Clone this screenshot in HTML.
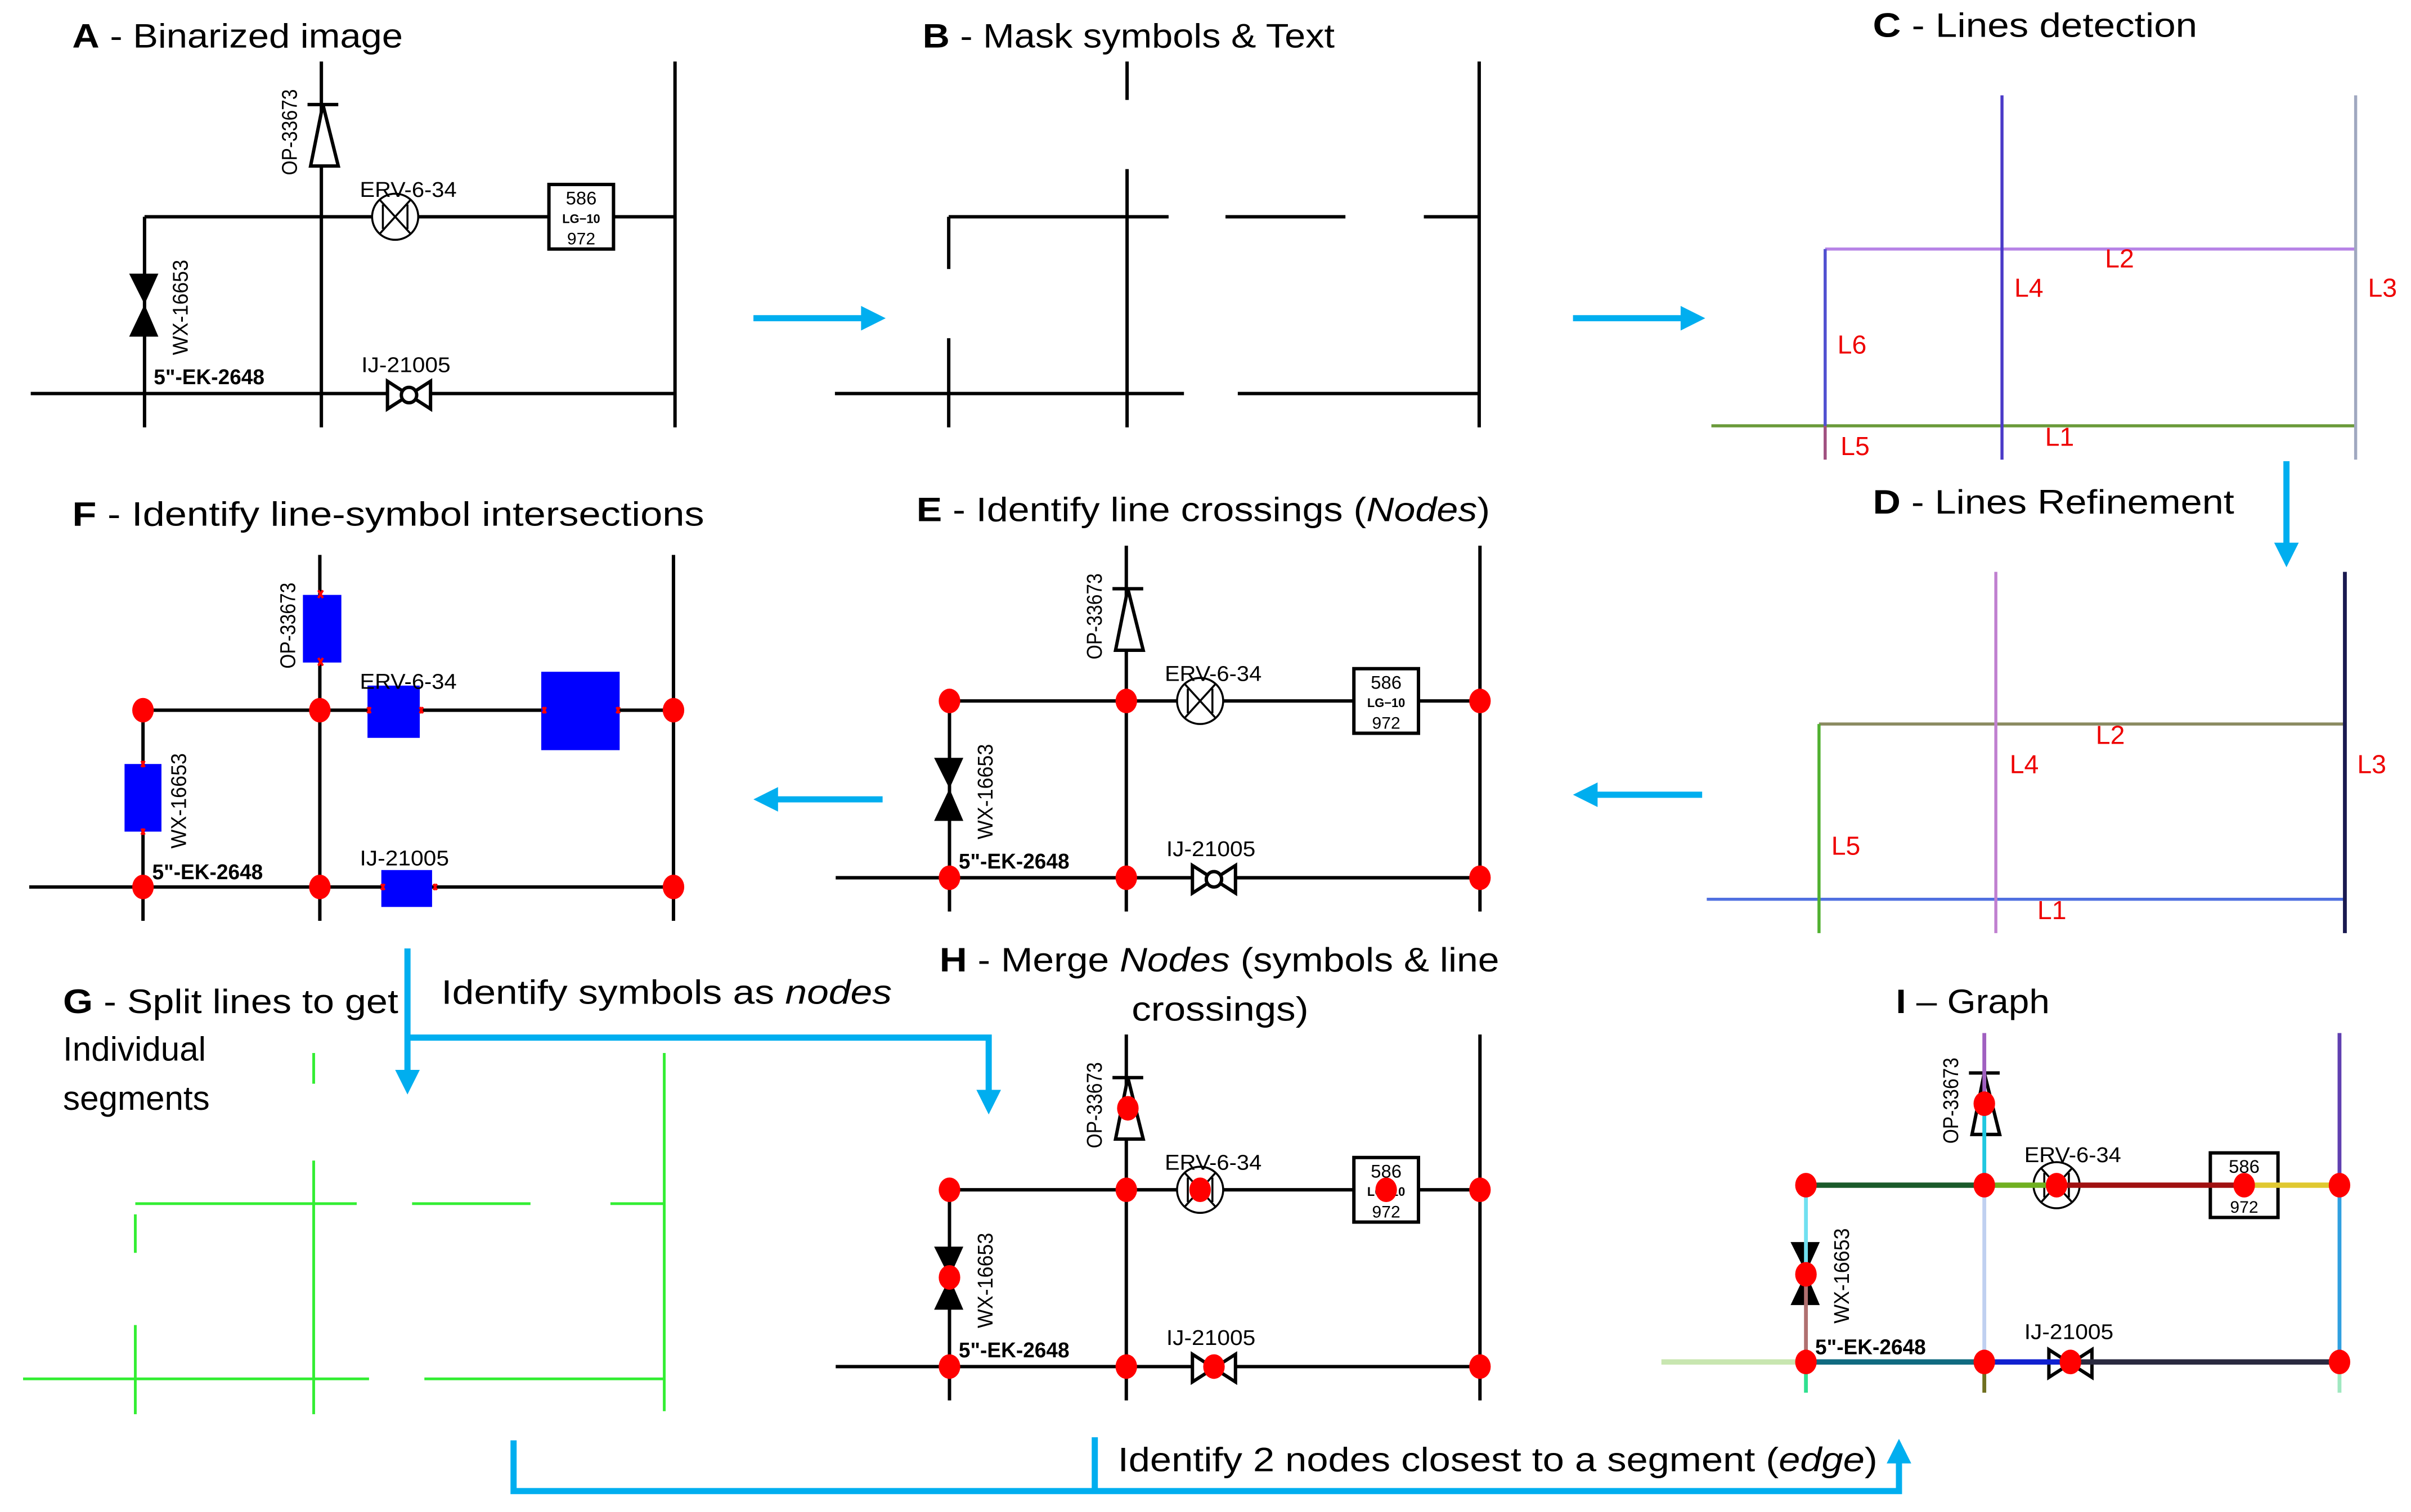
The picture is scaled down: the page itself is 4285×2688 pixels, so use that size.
<!DOCTYPE html>
<html><head><meta charset="utf-8"><style>
html,body{margin:0;padding:0;background:#fff;}
svg{display:block;}
text{font-family:"Liberation Sans",sans-serif;}
.t{font-size:22px;fill:#000;}
.lb{font-size:14px;fill:#000;}
.ll{font-size:17px;fill:#e00;}
</style></head><body>
<svg width="4285" height="2688" viewBox="0 0 1568 983.6" xmlns="http://www.w3.org/2000/svg">
<rect width="1568" height="984" fill="#fff"/>

<!-- Titles -->
<text class="t" x="47" y="31" textLength="215" lengthAdjust="spacingAndGlyphs"><tspan font-weight="bold">A</tspan> - Binarized image</text>
<text class="t" x="600" y="31" textLength="268" lengthAdjust="spacingAndGlyphs"><tspan font-weight="bold">B</tspan> - Mask symbols &amp; Text</text>
<text class="t" x="1218" y="24" textLength="211" lengthAdjust="spacingAndGlyphs"><tspan font-weight="bold">C</tspan> - Lines detection</text>
<text class="t" x="1218" y="334" textLength="235" lengthAdjust="spacingAndGlyphs"><tspan font-weight="bold">D</tspan> - Lines Refinement</text>
<text class="t" x="596" y="339" textLength="373" lengthAdjust="spacingAndGlyphs"><tspan font-weight="bold">E</tspan> - Identify line crossings (<tspan font-style="italic">Nodes</tspan>)</text>
<text class="t" x="47" y="342" textLength="411" lengthAdjust="spacingAndGlyphs"><tspan font-weight="bold">F</tspan> - Identify line-symbol intersections</text>
<text class="t" x="41" y="659" textLength="218" lengthAdjust="spacingAndGlyphs"><tspan font-weight="bold">G</tspan> - Split lines to get</text>
<text class="t" x="41" y="690">Individual</text>
<text class="t" x="41" y="722">segments</text>
<text class="t" x="611" y="632" textLength="364" lengthAdjust="spacingAndGlyphs"><tspan font-weight="bold">H</tspan> - Merge <tspan font-style="italic">Nodes</tspan> (symbols &amp; line</text>
<text class="t" x="736" y="664" textLength="115" lengthAdjust="spacingAndGlyphs">crossings)</text>
<text class="t" x="1233" y="659" textLength="100" lengthAdjust="spacingAndGlyphs"><tspan font-weight="bold">I</tspan> – Graph</text>
<text class="t" x="287" y="653" textLength="293" lengthAdjust="spacingAndGlyphs">Identify symbols as <tspan font-style="italic">nodes</tspan></text>
<text class="t" x="727" y="957" textLength="494" lengthAdjust="spacingAndGlyphs">Identify 2 nodes closest to a segment (<tspan font-style="italic">edge</tspan>)</text>

<!-- Blue arrows -->
<g stroke="#00aeef" stroke-width="4" fill="none">
<path d="M490 207H562"/><path d="M1023 207H1095"/><path d="M1487 300V355"/>
<path d="M1107 517H1037"/><path d="M574 520H504"/>
<path d="M265 617V698"/><path d="M265 675H643V711"/>
<path d="M334 937V970H1235V950"/><path d="M712 935V970"/>
</g>
<g fill="#00aeef">
<polygon points="576,207 560,199 560,215"/><polygon points="1109,207 1093,199 1093,215"/>
<polygon points="1487,369 1479,353 1495,353"/><polygon points="1023,517 1039,509 1039,525"/>
<polygon points="490,520 506,512 506,528"/><polygon points="265,712 257,696 273,696"/>
<polygon points="643,725 635,709 651,709"/><polygon points="1235,936 1227,952 1243,952"/>
</g>

<!-- Panel A -->
<g id="pa">
<g stroke="#000" stroke-width="2.2" fill="none">
<path d="M94 141V278M209 40V278M439 40V278M94 141H439M20 256H439"/>
<path d="M200 68H220"/>
<polygon points="210,68 202,108 220,108" fill="#fff"/>
<circle cx="257" cy="141" r="15" fill="#fff" stroke-width="1.3"/>
<path d="M247 130L267 152M267 130L247 152M249 133V149M265 133V149" stroke-width="1.3"/>
<rect x="357" y="120" width="42" height="42" fill="#fff"/>
<polygon points="252,248 252,266 266,257" fill="#fff"/><polygon points="280,248 280,266 266,257" fill="#fff"/>
<circle cx="266" cy="257" r="5" fill="#fff"/>
</g>
<polygon points="84,178 103,178 94,198" fill="#000"/><polygon points="84,219 103,219 94,198" fill="#000"/>
<text class="lb" transform="translate(193 86) rotate(-90)" text-anchor="middle" textLength="56" lengthAdjust="spacingAndGlyphs">OP-33673</text>
<text class="lb" x="234" y="128" textLength="63" lengthAdjust="spacingAndGlyphs">ERV-6-34</text>
<text class="lb" transform="translate(122 200) rotate(-90)" text-anchor="middle" textLength="62" lengthAdjust="spacingAndGlyphs">WX-16653</text>
<text class="lb" x="100" y="250" font-weight="bold" font-size="12" textLength="72" lengthAdjust="spacingAndGlyphs">5"-EK-2648</text>
<text class="lb" x="235" y="242" textLength="58" lengthAdjust="spacingAndGlyphs">IJ-21005</text>
<text x="378" y="133" font-size="12" text-anchor="middle">586</text>
<text x="378" y="145" font-size="8" font-weight="bold" text-anchor="middle">LG−10</text>
<text x="378" y="159" font-size="11" text-anchor="middle">972</text>
</g>

<!-- Panel B -->
<g stroke="#000" stroke-width="2.2" fill="none">
<path d="M733 40V65M733 110V278M962 40V278M617 141H760M797 141H875M926 141H962M617 141V175M617 220V278M543 256H770M805 256H962"/>
</g>

<!-- Panel C -->
<g stroke-width="2" fill="none">
<path d="M1187 162H1532" stroke="#b784e6"/>
<path d="M1113 277H1532" stroke="#6a9a3a"/>
<path d="M1532 62V299" stroke="#a0a8c0"/>
<path d="M1302 62V299" stroke="#4a3ac8"/>
<path d="M1187 162V277" stroke="#5050d0"/>
<path d="M1187 277V299" stroke="#a05080"/>
</g>
<text class="ll" x="1369" y="174">L2</text><text class="ll" x="1310" y="193">L4</text>
<text class="ll" x="1540" y="193">L3</text><text class="ll" x="1195" y="230">L6</text>
<text class="ll" x="1197" y="296">L5</text><text class="ll" x="1330" y="290">L1</text>

<!-- Panel D -->
<g stroke-width="2" fill="none">
<path d="M1183 471H1525" stroke="#8a8a60"/>
<path d="M1110 585H1525" stroke="#5070e0"/>
<path d="M1525 372V607" stroke="#1a1a50" stroke-width="2.5"/>
<path d="M1298 372V607" stroke="#c080d0"/>
<path d="M1183 471V607" stroke="#50b030"/>
</g>
<text class="ll" x="1363" y="484">L2</text><text class="ll" x="1307" y="503">L4</text>
<text class="ll" x="1533" y="503">L3</text><text class="ll" x="1191" y="556">L5</text>
<text class="ll" x="1325" y="598">L1</text>

<!-- Panel E -->
<g transform="translate(523.5 315)">
<g stroke="#000" stroke-width="2.2" fill="none">
<path d="M94 141V278M209 40V278M439 40V278M94 141H439M20 256H439"/>
<path d="M200 68H220"/>
<polygon points="210,68 202,108 220,108" fill="#fff"/>
<circle cx="257" cy="141" r="15" fill="#fff" stroke-width="1.3"/>
<path d="M247 130L267 152M267 130L247 152M249 133V149M265 133V149" stroke-width="1.3"/>
<rect x="357" y="120" width="42" height="42" fill="#fff"/>
<polygon points="252,248 252,266 266,257" fill="#fff"/><polygon points="280,248 280,266 266,257" fill="#fff"/>
<circle cx="266" cy="257" r="5" fill="#fff"/>
</g>
<polygon points="84,178 103,178 94,198" fill="#000"/><polygon points="84,219 103,219 94,198" fill="#000"/>
<text class="lb" transform="translate(193 86) rotate(-90)" text-anchor="middle" textLength="56" lengthAdjust="spacingAndGlyphs">OP-33673</text>
<text class="lb" x="234" y="128" textLength="63" lengthAdjust="spacingAndGlyphs">ERV-6-34</text>
<text class="lb" transform="translate(122 200) rotate(-90)" text-anchor="middle" textLength="62" lengthAdjust="spacingAndGlyphs">WX-16653</text>
<text class="lb" x="100" y="250" font-weight="bold" font-size="12" textLength="72" lengthAdjust="spacingAndGlyphs">5"-EK-2648</text>
<text class="lb" x="235" y="242" textLength="58" lengthAdjust="spacingAndGlyphs">IJ-21005</text>
<text x="378" y="133" font-size="12" text-anchor="middle">586</text>
<text x="378" y="145" font-size="8" font-weight="bold" text-anchor="middle">LG−10</text>
<text x="378" y="159" font-size="11" text-anchor="middle">972</text>
<g fill="#f00"><ellipse cx="94" cy="141" rx="7" ry="8"/><ellipse cx="209" cy="141" rx="7" ry="8"/><ellipse cx="439" cy="141" rx="7" ry="8"/>
<ellipse cx="94" cy="256" rx="7" ry="8"/><ellipse cx="209" cy="256" rx="7" ry="8"/><ellipse cx="439" cy="256" rx="7" ry="8"/></g>
</g>

<!-- Panel F -->
<g transform="translate(-1 321)">
<g stroke="#000" stroke-width="2.2" fill="none">
<path d="M94 141V278M209 40V278M439 40V278M94 141H439M20 256H439"/>
</g>
<g fill="#0000ff">
<rect x="198" y="66" width="25" height="44"/><rect x="240" y="125" width="34" height="34"/>
<rect x="353" y="116" width="51" height="51"/><rect x="82" y="176" width="24" height="44"/>
<rect x="249" y="245" width="33" height="24"/>
</g>
<text class="lb" transform="translate(193 86) rotate(-90)" text-anchor="middle" textLength="56" lengthAdjust="spacingAndGlyphs">OP-33673</text>
<text class="lb" x="235" y="127" textLength="63" lengthAdjust="spacingAndGlyphs">ERV-6-34</text>
<text class="lb" transform="translate(122 200) rotate(-90)" text-anchor="middle" textLength="62" lengthAdjust="spacingAndGlyphs">WX-16653</text>
<text class="lb" x="100" y="251" font-weight="bold" font-size="12" textLength="72" lengthAdjust="spacingAndGlyphs">5"-EK-2648</text>
<text class="lb" x="235" y="242" textLength="58" lengthAdjust="spacingAndGlyphs">IJ-21005</text>
<g fill="#f00"><ellipse cx="94" cy="141" rx="7" ry="8"/><ellipse cx="209" cy="141" rx="7" ry="8"/><ellipse cx="439" cy="141" rx="7" ry="8"/>
<ellipse cx="94" cy="256" rx="7" ry="8"/><ellipse cx="209" cy="256" rx="7" ry="8"/><ellipse cx="439" cy="256" rx="7" ry="8"/></g>
<g stroke="#f00" stroke-width="1.5"><path d="M208 63l3 5M211 63l-3 5M208 107l3 5M211 107l-3 5M240 139l2 4M242 139l-2 4M274 139l2 4M276 139l-2 4M354 139l2 4M356 139l-2 4M402 139l2 4M404 139l-2 4M93 174l2 4M95 174l-2 4M93 218l2 4M95 218l-2 4M249 254l2 4M251 254l-2 4M283 254l2 4M285 254l-2 4"/></g>
</g>

<!-- Panel G -->
<g stroke="#33ee33" stroke-width="1.8" fill="none">
<path d="M204 685V705M204 755V920M432 685V918M88 783H232M268 783H345M397 783H432M88 790V815M88 862V920M15 897H240M276 897H432"/>
</g>

<!-- Panel H -->
<g transform="translate(523.5 633)">
<g stroke="#000" stroke-width="2.2" fill="none">
<path d="M94 141V278M209 40V278M439 40V278M94 141H439M20 256H439"/>
<path d="M200 68H220"/>
<polygon points="210,68 202,108 220,108" fill="#fff"/>
<circle cx="257" cy="141" r="15" fill="#fff" stroke-width="1.3"/>
<path d="M247 130L267 152M267 130L247 152M249 133V149M265 133V149" stroke-width="1.3"/>
<rect x="357" y="120" width="42" height="42" fill="#fff"/>
<polygon points="252,248 252,266 266,257" fill="#fff"/><polygon points="280,248 280,266 266,257" fill="#fff"/>
<circle cx="266" cy="257" r="5" fill="#fff"/>
</g>
<polygon points="84,178 103,178 94,198" fill="#000"/><polygon points="84,219 103,219 94,198" fill="#000"/>
<text class="lb" transform="translate(193 86) rotate(-90)" text-anchor="middle" textLength="56" lengthAdjust="spacingAndGlyphs">OP-33673</text>
<text class="lb" x="234" y="128" textLength="63" lengthAdjust="spacingAndGlyphs">ERV-6-34</text>
<text class="lb" transform="translate(122 200) rotate(-90)" text-anchor="middle" textLength="62" lengthAdjust="spacingAndGlyphs">WX-16653</text>
<text class="lb" x="100" y="250" font-weight="bold" font-size="12" textLength="72" lengthAdjust="spacingAndGlyphs">5"-EK-2648</text>
<text class="lb" x="235" y="242" textLength="58" lengthAdjust="spacingAndGlyphs">IJ-21005</text>
<text x="378" y="133" font-size="12" text-anchor="middle">586</text>
<text x="378" y="145" font-size="8" font-weight="bold" text-anchor="middle">LG−10</text>
<text x="378" y="159" font-size="11" text-anchor="middle">972</text>
<g fill="#f00"><ellipse cx="94" cy="141" rx="7" ry="8"/><ellipse cx="209" cy="141" rx="7" ry="8"/><ellipse cx="439" cy="141" rx="7" ry="8"/>
<ellipse cx="94" cy="256" rx="7" ry="8"/><ellipse cx="209" cy="256" rx="7" ry="8"/><ellipse cx="439" cy="256" rx="7" ry="8"/>
<ellipse cx="210" cy="88" rx="7" ry="8"/><ellipse cx="257" cy="141" rx="7" ry="8"/><ellipse cx="378" cy="141" rx="7" ry="8"/>
<ellipse cx="94" cy="198" rx="7" ry="8"/><ellipse cx="266" cy="256" rx="7" ry="8"/></g>
</g>

<!-- Panel I -->
<g transform="translate(1080.5 630)">
<g stroke="#000" stroke-width="2.2" fill="none">
<path d="M200 68H220"/>
<polygon points="210,68 202,108 220,108" fill="#fff"/>
<circle cx="257" cy="141" r="15" fill="#fff" stroke-width="1.3"/>
<path d="M247 130L267 152M267 130L247 152M249 133V149M265 133V149" stroke-width="1.3"/>
<rect x="357" y="120" width="44" height="42" fill="#fff"/>
<polygon points="252,248 252,266 266,257" fill="#fff"/><polygon points="280,248 280,266 266,257" fill="#fff"/>
</g>
<polygon points="84,178 103,178 94,198" fill="#000"/><polygon points="84,219 103,219 94,198" fill="#000"/>
<text class="lb" transform="translate(193 86) rotate(-90)" text-anchor="middle" textLength="56" lengthAdjust="spacingAndGlyphs">OP-33673</text>
<text class="lb" x="236" y="126" textLength="63" lengthAdjust="spacingAndGlyphs">ERV-6-34</text>
<text class="lb" transform="translate(122 200) rotate(-90)" text-anchor="middle" textLength="62" lengthAdjust="spacingAndGlyphs">WX-16653</text>
<text class="lb" x="100" y="251" font-weight="bold" font-size="12" textLength="72" lengthAdjust="spacingAndGlyphs">5"-EK-2648</text>
<text class="lb" x="236" y="241" textLength="58" lengthAdjust="spacingAndGlyphs">IJ-21005</text>
<text x="379" y="133" font-size="12" text-anchor="middle">586</text>
<text x="379" y="159" font-size="11" text-anchor="middle">972</text>
<g stroke-width="3.5" fill="none">
<path d="M94 141H210" stroke="#1a5a2a"/><path d="M210 141H257" stroke="#70b020"/>
<path d="M257 141H379" stroke="#a01010"/><path d="M379 141H441" stroke="#e0c830"/>
<path d="M0 256H94" stroke="#c8e6b0"/><path d="M94 256H210" stroke="#106a80"/>
<path d="M210 256H266" stroke="#1020d0"/><path d="M266 256H441" stroke="#2a2a40"/>
</g>
<g stroke-width="2.5" fill="none">
<path d="M210 42V91" stroke="#a060c0"/><path d="M210 91V141" stroke="#20c8e0"/>
<path d="M210 141V256" stroke="#c0d0f0"/><path d="M210 256V276" stroke="#707020"/>
<path d="M94 141V199" stroke="#70e0f0"/><path d="M94 199V256" stroke="#b07070"/>
<path d="M94 256V276" stroke="#30e090"/>
<path d="M441 42V141" stroke="#6040b0"/><path d="M441 141V256" stroke="#30a0e0"/>
<path d="M441 256V276" stroke="#a0e8c0"/>
</g>
<g fill="#f00"><ellipse cx="94" cy="141" rx="7" ry="8"/><ellipse cx="210" cy="141" rx="7" ry="8"/><ellipse cx="441" cy="141" rx="7" ry="8"/>
<ellipse cx="94" cy="256" rx="7" ry="8"/><ellipse cx="210" cy="256" rx="7" ry="8"/><ellipse cx="441" cy="256" rx="7" ry="8"/>
<ellipse cx="210" cy="88" rx="7" ry="8"/><ellipse cx="257" cy="141" rx="7" ry="8"/><ellipse cx="379" cy="141" rx="7" ry="8"/>
<ellipse cx="94" cy="199" rx="7" ry="8"/><ellipse cx="266" cy="256" rx="7" ry="8"/></g>
</g>
</svg>
</body></html>
